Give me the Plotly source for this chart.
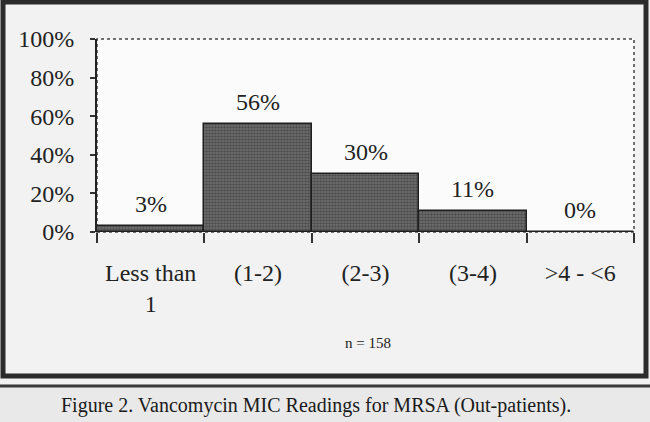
import plotly.graph_objects as go

# ---- data ----
categories = ["Less than<br>1", "(1-2)", "(2-3)", "(3-4)", "&gt;4 - &lt;6"]
values = [3, 56, 30, 11, 0]
value_labels = ["3%", "56%", "30%", "11%", "0%"]
y_ticks = [0, 20, 40, 60, 80, 100]
y_tick_labels = ["0%", "20%", "40%", "60%", "80%", "100%"]
note_text = "n = 158"
caption_text = "Figure 2. Vancomycin MIC Readings for MRSA (Out-patients)."

# ---- layout geometry (pixels) ----
W, H = 650, 422
PL, PR, PT, PB = 97, 634, 39, 232


def px(x):
    return (x - PL) / (PR - PL)


def py(y):
    return (PB - y) / (PB - PT)


FONT = "Liberation Serif, Times New Roman, serif"
INK = "#222222"

fig = go.Figure()
fig.add_trace(go.Bar(
    x=categories,
    y=values,
    marker=dict(
        color="#747474",
        line=dict(color="#1e1e1e", width=1.5),
        pattern=dict(shape=".", fgcolor="#262626", size=3, solidity=0.6),
    ),
    hoverinfo="skip",
))

for c, v, t in zip(categories, values, value_labels):
    fig.add_annotation(x=c, y=v, text=t, showarrow=False, yshift=22,
                       xanchor="center", yanchor="middle",
                       font=dict(family=FONT, size=24, color=INK))

shapes = [
    # lower strip outside the frame
    dict(type="rect", xref="paper", yref="paper", x0=px(-5), x1=px(W + 5),
         y0=py(384), y1=py(H + 5), fillcolor="#e9e9e9", line=dict(width=0), layer="below"),
    # plot area (white-ish, dotted border)
    dict(type="rect", xref="paper", yref="paper", x0=0, x1=1, y0=0, y1=1,
         fillcolor="#fbfbfb", line=dict(color="#444444", width=1.5, dash="dot"), layer="below"),
    # outer frame
    dict(type="rect", xref="paper", yref="paper", x0=px(3), x1=px(646), y0=py(376), y1=py(2),
         line=dict(color="#2c2c2c", width=5)),
    # double rule beneath
    dict(type="line", xref="paper", yref="paper", x0=px(0), x1=px(W), y0=py(386), y1=py(386),
         line=dict(color="#3a3a3a", width=3)),
]

fig.add_annotation(xref="paper", yref="paper", x=px(368), y=py(343), text=note_text,
                   xanchor="center", yanchor="middle", showarrow=False,
                   font=dict(family=FONT, size=15, color=INK))
fig.add_annotation(xref="paper", yref="paper", x=px(316), y=py(405), text=caption_text,
                   xanchor="center", yanchor="middle", showarrow=False,
                   font=dict(family=FONT, size=20, color="#1a1a1a"))

fig.update_layout(
    width=W, height=H,
    margin=dict(l=PL, r=W - PR, t=PT, b=H - PB, pad=0),
    paper_bgcolor="#f2f2f2",
    plot_bgcolor="rgba(0,0,0,0)",
    bargap=0,
    showlegend=False,
    shapes=shapes,
    font=dict(family=FONT, size=24, color=INK),
    xaxis=dict(
        type="category",
        tickson="boundaries",
        ticks="outside", ticklen=10, tickwidth=1.5, tickcolor="#333333",
        showline=False, showgrid=False, zeroline=False,
        ticklabelstandoff=24,
        tickfont=dict(family=FONT, size=24, color=INK),
        fixedrange=True,
    ),
    yaxis=dict(
        range=[0, 100],
        tickvals=y_ticks, ticktext=y_tick_labels,
        ticks="outside", ticklen=5, tickwidth=1.5, tickcolor="#333333",
        showline=True, linecolor="#222222", linewidth=2,
        showgrid=False, zeroline=False,
        ticklabelstandoff=11,
        tickfont=dict(family=FONT, size=24, color=INK),
        fixedrange=True,
    ),
)

fig.write_html("out.html", config={"displayModeBar": False},
               post_script="document.body.style.margin='0';document.body.style.overflow='hidden';")
